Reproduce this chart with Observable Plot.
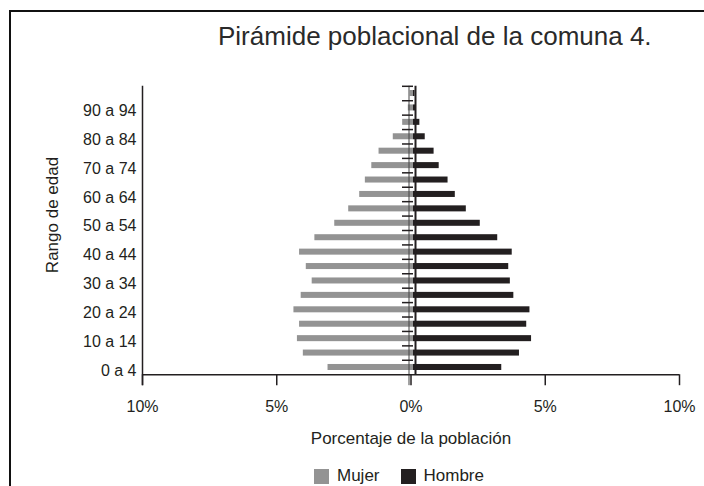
<!DOCTYPE html>
<html>
<head>
<meta charset="utf-8">
<script src="https://cdn.jsdelivr.net/npm/d3@7"></script>
<script src="https://cdn.jsdelivr.net/npm/@observablehq/plot@0.6"></script>
<style>
  body { margin: 0; background: #fff; }
  #wrap { position: relative; width: 704px; height: 486px; overflow: hidden;
          font-family: "Liberation Sans", Arial, sans-serif; color: #231f20; background: #fff; }
  #frame { position: absolute; left: 9px; top: 10px; width: 900px; height: 700px;
           border-left: 2px solid #111; border-top: 2px solid #111; }
  #title { position: absolute; left: 218px; top: 23px; font-size: 26px; line-height: 26px;
           white-space: nowrap; color: #2a2a2a; }
  #ylabel { position: absolute; left: 52px; top: 215px; font-size: 17px; line-height: 17px;
            white-space: nowrap; transform: translate(-50%, -50%) rotate(-90deg); }
  #chart { position: absolute; left: 0; top: 0; }
  #legend { position: absolute; left: 314px; top: 468px; height: 16px; display: flex;
            align-items: center; font-size: 17px; white-space: nowrap; }
  .sw { display: inline-block; width: 15px; height: 15px; margin-right: 8px; }
</style>
</head>
<body>
<div id="wrap">
  <div id="frame"></div>
  <div id="chart"></div>
  <div id="title">Pirámide poblacional de la comuna 4.</div>
  <div id="ylabel">Rango de edad</div>
  <div id="legend"></div>
</div>
<script>
// ---- data (percent of population), age groups from youngest to oldest ----
const ages = ["0 a 4","5 a 9","10 a 14","15 a 19","20 a 24","25 a 29","30 a 34","35 a 39",
              "40 a 44","45 a 49","50 a 54","55 a 59","60 a 64","65 a 69","70 a 74","75 a 79",
              "80 a 84","85 a 89","90 a 94","95 a 99"];
const mujer  = [3.09,4.01,4.23,4.15,4.36,4.09,3.68,3.90,4.15,3.58,2.84,2.32,1.91,1.70,1.46,1.19,0.66,0.31,0.10,0.03];
const hombre = [3.38,4.04,4.49,4.31,4.43,3.83,3.70,3.64,3.77,3.23,2.58,2.06,1.65,1.38,1.05,0.86,0.53,0.33,0.20,0.15];
const xTicks = [-10, -5, 0, 5, 10];
const series = ["Mujer", "Hombre"];
const colors = ["#939393", "#231f20"];

const rows = ages.map((age, i) => ({i, age, mujer: mujer[i], hombre: hombre[i]}));
const labelCenters = d3.range(0, ages.length, 2).map(i => i + 0.5);
const boundaries = d3.range(1, ages.length + 1);

const H = 460;
const ink = "#231f20";

const chart = Plot.plot({
  width: 704,
  height: H,
  marginLeft: 142,
  marginRight: 25,
  marginTop: 85.8,
  marginBottom: H - 374.2,
  style: {fontFamily: '"Liberation Sans", Arial, sans-serif', fontSize: "16px", color: ink, background: "transparent", overflow: "visible"},
  x: {domain: [xTicks[0], xTicks[xTicks.length - 1]]},
  y: {domain: [0, ages.length]},
  marks: [
    Plot.rect(rows, {y1: "i", y2: d => d.i + 1, x1: d => -d.mujer, x2: 0,
      fill: colors[0], insetTop: 4.2, insetBottom: 4.2, insetRight: -2.5}),
    Plot.rect(rows, {y1: "i", y2: d => d.i + 1, x1: 0, x2: "hombre",
      fill: colors[1], insetTop: 4.2, insetBottom: 4.2, insetLeft: 2.5}),
    // thin zero line (extends as the 0% tick)
    Plot.ruleX([0], {stroke: "#444", strokeWidth: 1, dx: -2, insetBottom: -11}),
    // thick centre axis
    Plot.ruleX([0], {stroke: ink, strokeWidth: 2, dx: 4.5}),
    // centre ticks at group boundaries
    Plot.ruleY(boundaries, {x1: 0, x2: 0, insetLeft: -8.5, insetRight: -2.5, stroke: ink, strokeWidth: 1.5}),
    // left axis line
    Plot.ruleX([xTicks[0]], {stroke: ink, strokeWidth: 1.5, insetBottom: -11}),
    // bottom axis line
    Plot.ruleY([0], {stroke: ink, strokeWidth: 1.5}),
    Plot.axisX({ticks: xTicks, tickFormat: d => Math.abs(d) + "%", tickSize: 11, tickPadding: 15,
      stroke: ink, strokeWidth: 1.5, label: null}),
    Plot.axisX({ticks: [], tickSize: 0, label: "Porcentaje de la población", labelAnchor: "center",
      labelArrow: "none", labelOffset: 69, fontSize: 17}),
    Plot.axisY({ticks: labelCenters, tickFormat: d => ages[Math.floor(d)], tickSize: 0, tickPadding: 6,
      dy: 3, label: null})
  ]
});
document.getElementById("chart").appendChild(chart);

const legend = document.getElementById("legend");
series.forEach((s, k) => {
  const item = document.createElement("span");
  item.style.display = "inline-flex";
  item.style.alignItems = "center";
  item.style.marginRight = k === 0 ? "21px" : "0";
  item.innerHTML = `<span class="sw" style="background:${colors[k]}"></span>${s}`;
  legend.appendChild(item);
});
</script>
</body>
</html>
